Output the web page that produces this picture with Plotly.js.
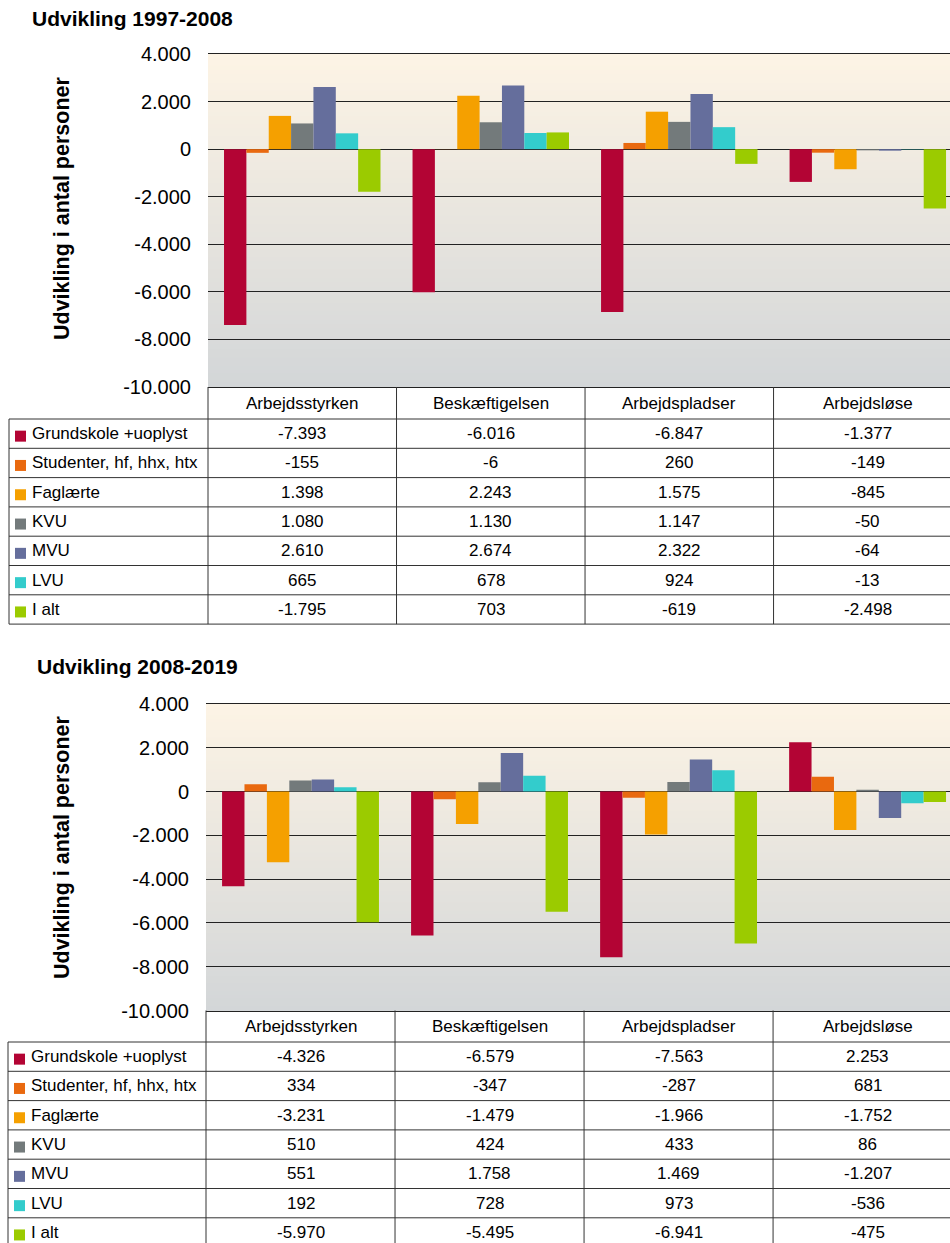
<!DOCTYPE html>
<html>
<head>
<meta charset="utf-8">
<script src="https://cdn.plot.ly/plotly-3.0.1.min.js"></script>
<style>html,body{margin:0;padding:0;background:#fff}#chart{width:950px;height:1243px}</style>
</head>
<body>
<div id="chart"></div>
<script>
// ---------- DATA ----------
const categories = ['Arbejdsstyrken', 'Beskæftigelsen', 'Arbejdspladser', 'Arbejdsløse'];
const seriesNames = ['Grundskole +uoplyst', 'Studenter, hf, hhx, htx', 'Faglærte', 'KVU', 'MVU', 'LVU', 'I alt'];
const panelTitles = ['Udvikling 1997-2008', 'Udvikling 2008-2019'];
const yAxisTitle = 'Udvikling i antal personer';
const yTickValues = [-10000, -8000, -6000, -4000, -2000, 0, 2000, 4000];

// 1997-2008
const grund1 = [-7393, -6016, -6847, -1377];
const stud1  = [-155, -6, 260, -149];
const fag1   = [1398, 2243, 1575, -845];
const kvu1   = [1080, 1130, 1147, -50];
const mvu1   = [2610, 2674, 2322, -64];
const lvu1   = [665, 678, 924, -13];
const ialt1  = [-1795, 703, -619, -2498];

// 2008-2019
const grund2 = [-4326, -6579, -7563, 2253];
const stud2  = [334, -347, -287, 681];
const fag2   = [-3231, -1479, -1966, -1752];
const kvu2   = [510, 424, 433, 86];
const mvu2   = [551, 1758, 1469, -1207];
const lvu2   = [192, 728, 973, -536];
const ialt2  = [-5970, -5495, -6941, -475];

const seriesColors = ['#B30434', '#E9690F', '#F5A000', '#737A7B', '#656E9C', '#33CCCC', '#9BCB00'];

// ---------- LAYOUT HELPERS ----------
const W = 950, H = 1243;
const px = x => x / W;
const py = y => 1 - y / H;
const FONT = 'Liberation Sans, Arial, sans-serif';
const XRANGE = [-0.5, 3.436];

function fmt(v) {
  const s = Math.abs(Math.round(v)).toString().replace(/\B(?=(\d{3})+(?!\d))/g, '.');
  return (v < 0 ? '-' : '') + s;
}

const panels = [
  { title: panelTitles[0], titleX: 30, titleY: 18, plotL: 208, plotT: 54, plotB: 387,
    ytitleY: 209, tableL: 9, rowsTop: 419, rowH: 29.3,
    data: [grund1, stud1, fag1, kvu1, mvu1, lvu1, ialt1] },
  { title: panelTitles[1], titleX: 35, titleY: 667, plotL: 206, plotT: 704, plotB: 1010.5,
    ytitleY: 848, tableL: 8, rowsTop: 1042, rowH: 29.3,
    data: [grund2, stud2, fag2, kvu2, mvu2, lvu2, ialt2] }
];

const traces = [];
const shapes = [];
const annotations = [];
const layout = {
  width: W, height: H,
  margin: { l: 0, r: 0, t: 0, b: 0 },
  paper_bgcolor: '#ffffff',
  plot_bgcolor: 'rgba(0,0,0,0)',
  barmode: 'group', bargap: 0.17, bargroupgap: 0,
  showlegend: false,
  font: { family: FONT, color: '#000' },
  shapes: shapes, annotations: annotations
};

const topC = [253, 244, 229], botC = [211, 214, 216];
const lineCol = '#333333';

panels.forEach((p, pi) => {
  const xa = pi === 0 ? 'x' : 'x2';
  const ya = pi === 0 ? 'y' : 'y2';
  const xKey = pi === 0 ? 'xaxis' : 'xaxis2';
  const yKey = pi === 0 ? 'yaxis' : 'yaxis2';

  layout[xKey] = {
    domain: [px(p.plotL), 1], range: XRANGE, type: 'category',
    showticklabels: false, ticks: '', showgrid: false, zeroline: false,
    showline: true, mirror: true, linecolor: '#222', linewidth: 1,
    anchor: ya, fixedrange: true
  };
  layout[yKey] = {
    domain: [py(p.plotB), py(p.plotT)], range: [-10000, 4000],
    tickvals: yTickValues, ticktext: yTickValues.map(fmt),
    tickfont: { family: FONT, size: 20, color: '#000' },
    ticks: 'outside', ticklen: 12, tickcolor: 'rgba(0,0,0,0)',
    showgrid: true, gridcolor: '#222', gridwidth: 1,
    zeroline: true, zerolinecolor: '#222', zerolinewidth: 1,
    showline: false, anchor: xa, fixedrange: true
  };

  // bars
  p.data.forEach((vals, si) => {
    traces.push({
      type: 'bar', x: categories, y: vals, name: seriesNames[si],
      xaxis: xa, yaxis: ya,
      marker: { color: seriesColors[si], line: { width: 0 } },
      hoverinfo: 'skip'
    });
  });

  // gradient background bands
  const N = 80;
  for (let i = 0; i < N; i++) {
    const t = (i + 0.5) / N;
    const c = topC.map((a, k) => Math.round(a + (botC[k] - a) * t));
    shapes.push({
      type: 'rect', layer: 'below', xref: 'paper', yref: ya + ' domain',
      x0: px(p.plotL), x1: 1,
      y0: 1 - (i + 1) / N - 0.002, y1: 1 - i / N + 0.002,
      fillcolor: `rgb(${c[0]},${c[1]},${c[2]})`, line: { width: 0 }
    });
  }

  // titles
  annotations.push({
    xref: 'paper', yref: 'paper', x: px(p.titleX), y: py(p.titleY),
    xanchor: 'left', yanchor: 'middle', showarrow: false,
    text: '<b>' + p.title + '</b>', font: { family: FONT, size: 21, color: '#000' }
  });
  annotations.push({
    xref: 'paper', yref: 'paper', x: px(62), y: py(p.ytitleY),
    xanchor: 'center', yanchor: 'middle', showarrow: false, textangle: -90,
    text: '<b>' + yAxisTitle + '</b>', font: { family: FONT, size: 21.5, color: '#000' }
  });

  // table geometry
  const catW = (W - p.plotL) / (XRANGE[1] - XRANGE[0]);
  const colX = k => p.plotL + (k - XRANGE[0] - 0.5) * catW; // left edge of column k
  const nRows = seriesNames.length;
  const tableBottom = p.rowsTop + nRows * p.rowH;

  // vertical lines
  for (let k = 0; k < categories.length; k++) {
    const x = colX(k);
    shapes.push({ type: 'line', xref: 'paper', yref: 'paper', x0: px(x), x1: px(x),
      y0: py(p.plotB), y1: py(tableBottom), line: { color: lineCol, width: 1 } });
  }
  shapes.push({ type: 'line', xref: 'paper', yref: 'paper', x0: px(p.tableL), x1: px(p.tableL),
    y0: py(p.rowsTop), y1: py(tableBottom), line: { color: lineCol, width: 1 } });
  // horizontal lines
  for (let r = 0; r <= nRows; r++) {
    const y = p.rowsTop + r * p.rowH;
    shapes.push({ type: 'line', xref: 'paper', yref: 'paper', x0: px(p.tableL), x1: 1,
      y0: py(y), y1: py(y), line: { color: lineCol, width: 1 } });
  }

  // header
  const headY = (p.plotB + p.rowsTop) / 2;
  categories.forEach((c, k) => {
    annotations.push({
      xref: 'paper', yref: 'paper', x: px(colX(k) + catW / 2), y: py(headY),
      xanchor: 'center', yanchor: 'middle', showarrow: false,
      text: c, font: { family: FONT, size: 17, color: '#000' }
    });
  });

  // rows
  seriesNames.forEach((name, si) => {
    const cy = p.rowsTop + (si + 0.5) * p.rowH;
    shapes.push({ type: 'rect', xref: 'paper', yref: 'paper',
      x0: px(p.tableL + 6), x1: px(p.tableL + 17), y0: py(cy + 8), y1: py(cy - 3),
      fillcolor: seriesColors[si], line: { width: 0 } });
    annotations.push({
      xref: 'paper', yref: 'paper', x: px(p.tableL + 21), y: py(cy),
      xanchor: 'left', yanchor: 'middle', showarrow: false,
      text: name, font: { family: FONT, size: 17, color: '#000' }
    });
    p.data[si].forEach((v, k) => {
      annotations.push({
        xref: 'paper', yref: 'paper', x: px(colX(k) + catW / 2), y: py(cy),
        xanchor: 'center', yanchor: 'middle', showarrow: false,
        text: fmt(v), font: { family: FONT, size: 17, color: '#000' }
      });
    });
  });
});

Plotly.newPlot('chart', traces, layout, { staticPlot: true, displayModeBar: false });
</script>
</body>
</html>
